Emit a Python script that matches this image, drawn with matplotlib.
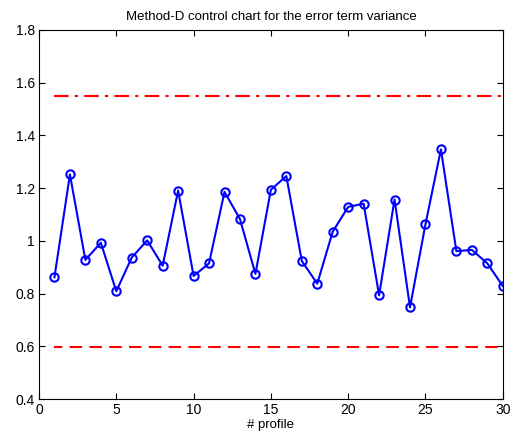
import matplotlib
matplotlib.use('Agg')
import matplotlib.pyplot as plt

# profile index and the error term variance statistic
profiles = list(range(1, 31))
variance = [0.862, 1.252, 0.928, 0.993, 0.809, 0.937, 1.002, 0.906, 1.191, 0.867,
            0.915, 1.186, 1.083, 0.875, 1.194, 1.246, 0.924, 0.838, 1.035, 1.129,
            1.141, 0.794, 1.157, 0.748, 1.063, 1.347, 0.961, 0.966, 0.915, 0.829]
ucl = 1.548
lcl = 0.598
x_ticks = [0, 5, 10, 15, 20, 25, 30]
y_ticks = [0.4, 0.6, 0.8, 1.0, 1.2, 1.4, 1.6, 1.8]
y_tick_labels = ['0.4', '0.6', '0.8', '1', '1.2', '1.4', '1.6', '1.8']

plt.rcParams['font.family'] = ['Liberation Sans', 'DejaVu Sans']

fig = plt.figure(figsize=(5.27, 4.41), dpi=100)
ax = fig.add_axes([0.074, 0.095, 0.88, 0.837])

# control limits
ax.plot([profiles[0], profiles[-1]], [ucl, ucl], color='red', linestyle=(0, (7, 3, 1.5, 3)), linewidth=1.5)
ax.plot([profiles[0], profiles[-1]], [lcl, lcl], color='red', linestyle=(2, (6, 3.5)), linewidth=1.5)

# statistic per profile
ax.plot(profiles, variance, color='blue', linewidth=1.5, marker='o', markersize=6,
        markerfacecolor='none', markeredgecolor='blue', markeredgewidth=1.5)

ax.set_xlim(0, 30)
ax.set_ylim(0.4, 1.8)
ax.set_xticks(x_ticks)
ax.set_yticks(y_ticks)
ax.set_yticklabels(y_tick_labels)
ax.tick_params(direction='in', top=True, right=True, labelsize=10, length=4, pad=3)
for spine in ax.spines.values():
    spine.set_linewidth(0.8)

ax.set_xlabel('# profile', fontsize=9.5, labelpad=1)
ax.set_title('Method-D control chart for the error term variance', fontsize=9.5, pad=7)

fig.savefig('out.png', dpi=100)
